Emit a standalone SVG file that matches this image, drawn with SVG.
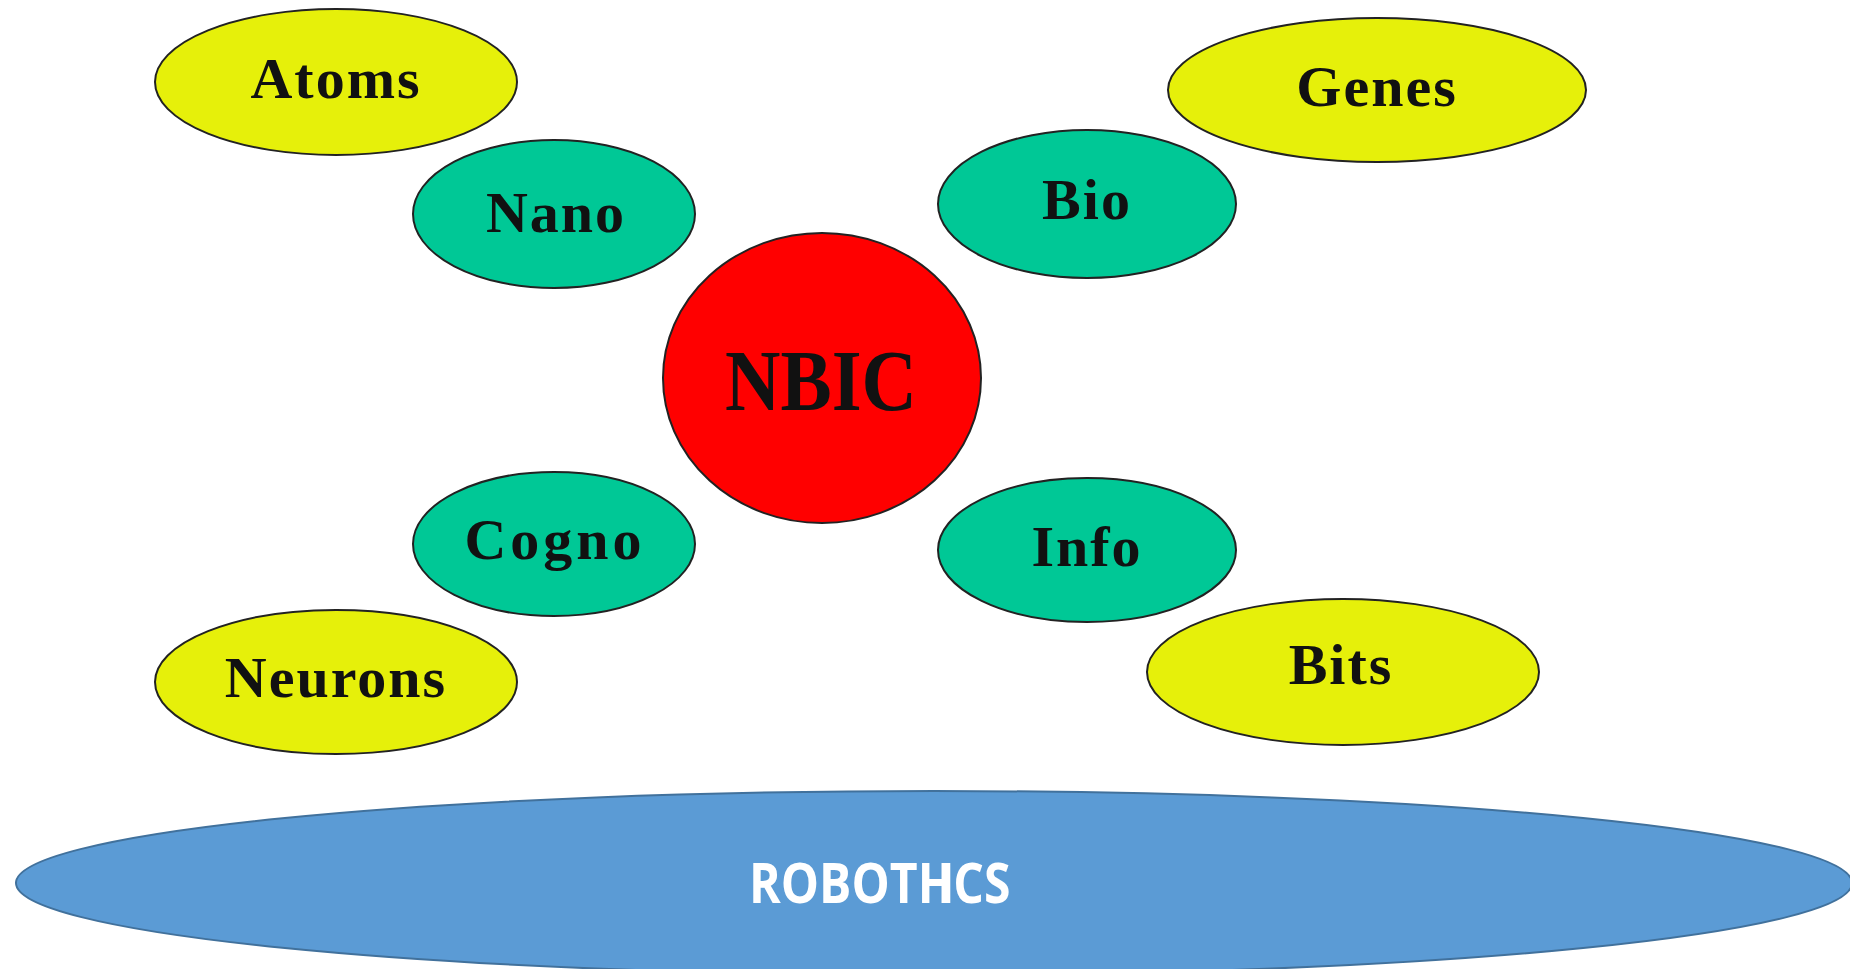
<svg xmlns="http://www.w3.org/2000/svg" width="1850" height="969" viewBox="0 0 1850 969">
<style>
.y{fill:#e6f00a;stroke:#222;stroke-width:2}
.g{fill:#00c896;stroke:#222;stroke-width:2}
.t{font-family:"Liberation Serif","Times New Roman",serif;font-weight:bold;font-size:58px;fill:#111;text-anchor:middle;letter-spacing:2px}
</style>
<rect width="1850" height="969" fill="#fff"/>
<g id="connectors"></g>
<g id="atoms"><ellipse class="y" cx="336" cy="82" rx="181" ry="73"/><text class="t" x="336" y="98">Atoms</text></g>
<g id="genes"><ellipse class="y" cx="1377" cy="90" rx="209" ry="72"/><text class="t" x="1377" y="106">Genes</text></g>
<g id="nano"><ellipse class="g" cx="554" cy="214" rx="141" ry="74"/><text class="t" x="556" y="232">Nano</text></g>
<g id="bio"><ellipse class="g" cx="1087" cy="204" rx="149" ry="74"/><text class="t" x="1087" y="219">Bio</text></g>
<g id="nbic"><ellipse cx="822" cy="378" rx="159" ry="145" fill="#f00" stroke="#222" stroke-width="2"/><text class="t" x="821" y="410" textLength="192" lengthAdjust="spacingAndGlyphs" style="font-size:86px;letter-spacing:0">NBIC</text></g>
<g id="cogno"><ellipse class="g" cx="554" cy="544" rx="141" ry="72"/><text class="t" x="555" y="559" style="letter-spacing:4px">Cogno</text></g>
<g id="info"><ellipse class="g" cx="1087" cy="550" rx="149" ry="72"/><text class="t" x="1087" y="566">Info</text></g>
<g id="neurons"><ellipse class="y" cx="336" cy="682" rx="181" ry="72"/><text class="t" x="336" y="697">Neurons</text></g>
<g id="bits"><ellipse class="y" cx="1343" cy="672" rx="196" ry="73"/><text class="t" x="1341" y="684">Bits</text></g>
<g id="robotics"><ellipse cx="934" cy="883" rx="918" ry="92" fill="#5b9bd5" stroke="#41719c" stroke-width="2"/><text transform="translate(749,903) scale(0.86,1)" x="0" y="0" dx="0 0 0 0 0 0 -20 0 0" font-family="'Open Sans','Liberation Sans',sans-serif" font-weight="bold" font-size="56" fill="#fff">ROBOTHICS</text></g>
</svg>
